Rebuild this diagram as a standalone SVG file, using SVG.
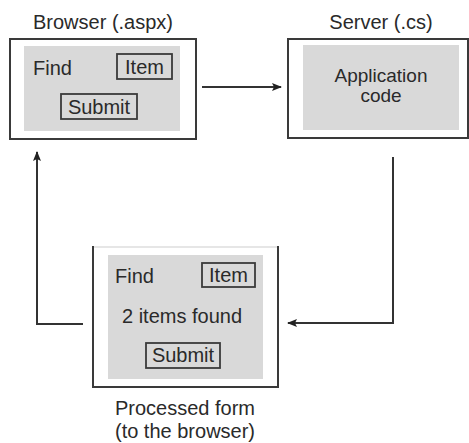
<svg xmlns="http://www.w3.org/2000/svg" width="469" height="443" viewBox="0 0 469 443">
  <defs>
    <style>
      text { font-family: "Liberation Sans", Arial, sans-serif; font-size: 20px; fill: #2a2a2a; }
      .mid { text-anchor: middle; }
      .code { font-size: 19px; }
      .outer { fill: #ffffff; stroke: #3a3a3a; stroke-width: 2; }
      .panel { fill: #d9d9d9; stroke: none; }
      .field { fill: none; stroke: #3a3a3a; stroke-width: 1.8; }
      .conn { fill: none; stroke: #333333; stroke-width: 2; }
    </style>
    <marker id="arrow" viewBox="0 0 10 10" refX="9" refY="5" markerWidth="5" markerHeight="5" orient="auto" markerUnits="strokeWidth">
      <path d="M0,1 L10,5 L0,9 L2,5 Z" fill="#222222"/>
    </marker>
  </defs>
  <rect x="0" y="0" width="469" height="443" fill="#ffffff"/>

  <g id="browser">
    <text class="mid" x="103" y="29">Browser (.aspx)</text>
    <rect class="outer" x="10" y="39" width="186" height="100"/>
    <rect class="panel" x="24" y="46" width="156" height="85"/>
    <text x="33" y="75">Find</text>
    <rect class="field" x="117" y="54" width="55" height="25"/>
    <text class="mid" x="144.5" y="74">Item</text>
    <rect class="field" x="61" y="94" width="76" height="25"/>
    <text class="mid" x="99" y="114">Submit</text>
  </g>

  <g id="server">
    <text class="mid" x="381" y="29">Server (.cs)</text>
    <rect class="outer" x="288" y="39" width="180" height="99"/>
    <rect class="panel" x="303" y="45" width="156" height="85"/>
    <text class="mid code" x="381" y="82">Application</text>
    <text class="mid code" x="381" y="102">code</text>
  </g>

  <g id="processed">
    <rect x="93" y="247" width="185" height="140" fill="#ffffff" stroke="none"/>
    <line x1="93" y1="247" x2="278" y2="247" stroke="#e6e6e6" stroke-width="2"/>
    <path d="M93,246 V387 H278 V246" fill="none" stroke="#3a3a3a" stroke-width="2"/>
    <rect class="panel" x="108" y="255" width="155" height="124"/>
    <text x="115" y="283">Find</text>
    <rect class="field" x="202" y="263" width="53" height="24"/>
    <text class="mid" x="228.5" y="282">Item</text>
    <text class="mid" x="182" y="323">2 items found</text>
    <rect class="field" x="146" y="343" width="74" height="25"/>
    <text class="mid" x="183" y="362">Submit</text>
    <text class="mid" x="185" y="415">Processed form</text>
    <text class="mid" x="185" y="438">(to the browser)</text>
  </g>

  <g id="connectors">
    <path class="conn" d="M202,87 H281" marker-end="url(#arrow)"/>
    <path class="conn" d="M393,157 V323 H288" marker-end="url(#arrow)"/>
    <path class="conn" d="M83,324 H37 V152" marker-end="url(#arrow)"/>
  </g>
</svg>
